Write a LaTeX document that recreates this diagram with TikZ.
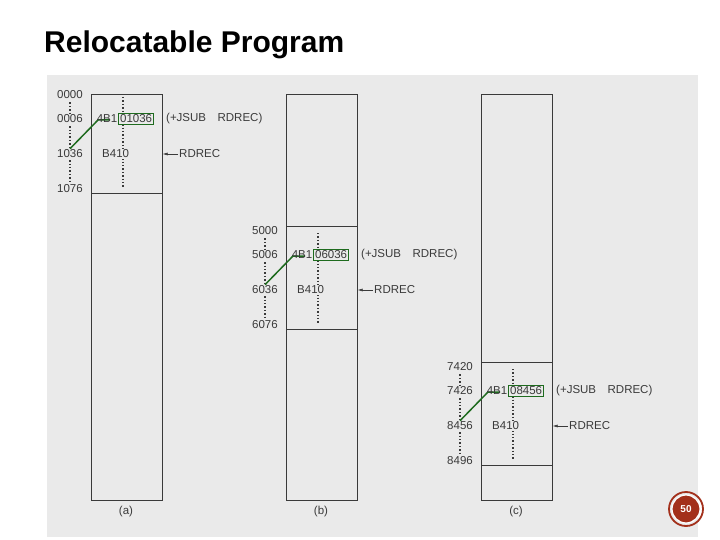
\documentclass[tikz,border=0pt]{standalone}
\usepackage{fontspec}
\setmainfont{Liberation Sans}
\usetikzlibrary{arrows.meta}
\definecolor{scanbg}{HTML}{EAEAEA}
\definecolor{ink}{HTML}{3A3A3A}
\definecolor{markgreen}{HTML}{1E6B1E}
\definecolor{badge}{HTML}{A3301B}
\begin{document}
\begin{tikzpicture}[x=1pt,y=-1pt,
  txt/.style={font=\fontsize{11.5}{13}\selectfont,text=ink,inner sep=1pt},
  memline/.style={draw=ink,line width=0.6pt},
  dots/.style={ink,line width=1.4pt,dotted},
  link/.style={markgreen,line width=1.5pt},
  arr/.style={ink,line width=0.6pt,-{Latex[length=5pt,width=3pt]}}
]
\useasboundingbox (0,0) rectangle (720,540);
\fill[white] (0,0) rectangle (720,540);
\fill[scanbg] (47,75) rectangle (698,537);
% title
\node[anchor=west,font=\fontsize{30}{34}\selectfont\bfseries,inner sep=0] (title) at (44,45) {Relocatable Program};

% three memory images
\foreach \bx/\s/\ta/\tb/\tc/\td/\op/\col in {91/90/0000/0006/1036/1076/01036/a,
    286/226/5000/5006/6036/6076/06036/b, 481/362/7420/7426/8456/8496/08456/c}{
  \node[memline,minimum width=71,minimum height=406,anchor=north west,inner sep=0] (box\col) at (\bx,94) {};
  \ifnum\s>100 \draw[memline] (\bx,\s) -- ++(71,0);\fi
  \draw[memline] (\bx,\s+103) -- ++(71,0);
  % addresses
  \draw[dots] (\bx-21,\s+9) -- (\bx-21,\s+95);
  \node[txt,fill=scanbg] (la\col) at (\bx-21,\s+5) {\ta};
  \node[txt,fill=scanbg] (lb\col) at (\bx-21,\s+29) {\tb};
  \node[txt,fill=scanbg] (lc\col) at (\bx-21,\s+64) {\tc};
  \node[txt,fill=scanbg] (ld\col) at (\bx-21,\s+99) {\td};
  % contents
  \draw[dots] (\bx+32,\s+7) -- (\bx+32,\s+98);
  \draw[link] (lc\col.north) -- (\bx+7,\s+30) -- (\bx+19,\s+30);
  \node[txt,anchor=east,inner sep=0.5pt] (pre\col) at (\bx+27,\s+29) {4B1};
  \node[txt,anchor=west,draw=markgreen,line width=1.3pt,fill=scanbg,inner sep=1.5pt] (op\col) at (\bx+27,\s+29) {\op};
  \node[txt,anchor=west] (js\col) at (\bx+74,\s+29) {(+JSUB\quad RDREC)};
  \node[txt,anchor=west,fill=scanbg] (b\col) at (\bx+10,\s+64) {B410};
  \node[txt,anchor=west] (rd\col) at (\bx+87,\s+64) {RDREC};
  \draw[arr] (rd\col.west) -- (rd\col.west -| box\col.east);
  \node[txt] (cap\col) at (\bx+35,512) {(\col)};
}

% page number
\node[circle,fill=badge,draw=white,line width=1.2pt,minimum size=28,inner sep=0,
  font=\fontsize{10}{11}\selectfont\bfseries,text=white] (page) at (686,509) {50};
\draw[badge,line width=1.8pt] (page) circle (17);
\end{tikzpicture}
\end{document}
